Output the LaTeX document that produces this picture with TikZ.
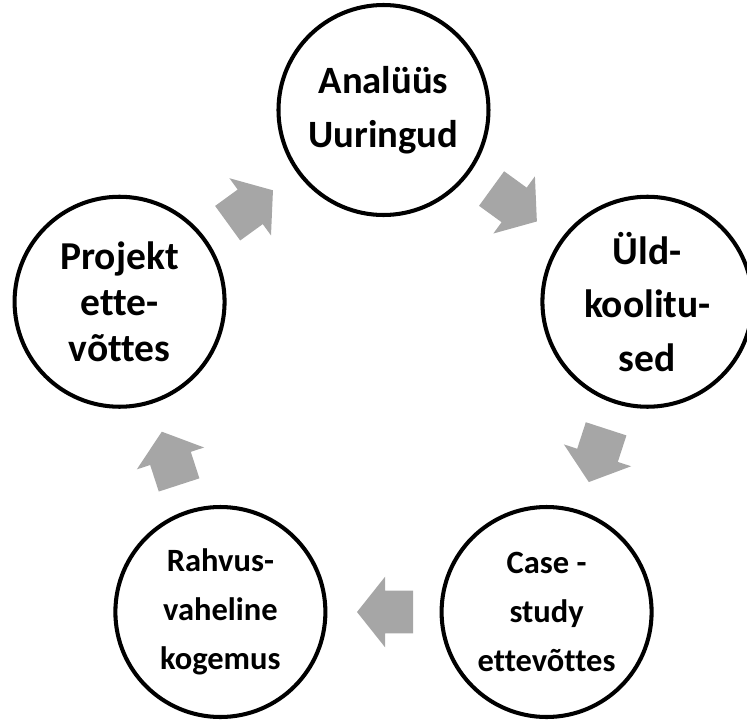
\documentclass[tikz,border=0pt]{standalone}
\usepackage{fontspec}
\setmainfont{Carlito}[Ligatures=NoCommon]
\usepackage{tikz}
\usetikzlibrary{shapes.arrows, calc}
\definecolor{ringgray}{RGB}{166,166,166}
\tikzset{
  etapp/.style={circle, draw=black, line width=2.3pt, minimum size=4.2cm, inner sep=0pt, align=center, fill=white},
  nool/.style={single arrow, fill=ringgray, draw=none, inner xsep=0pt, inner ysep=0.42cm, minimum height=1.12cm, single arrow head extend=0.28cm, single arrow tip angle=103}
}
\begin{document}
\begin{tikzpicture}
  \useasboundingbox (-7.67,-6.73) rectangle (7.27,7.75);
  \node (an) [etapp, font=\fontsize{22}{31}\selectfont\bfseries] at (90:5.55) {Analüüs\\ Uuringud};
  \node (ul) [etapp, font=\fontsize{22.5}{30.5}\selectfont\bfseries] at (18:5.55) {Üld-\\ koolitu-\\ sed};
  \node (ca) [etapp, font=\fontsize{18.5}{28}\selectfont\bfseries] at (-54:5.55) {Case -\\ study\\ ettevõttes};
  \node (ra) [etapp, font=\fontsize{18.5}{28}\selectfont\bfseries] at (234:5.55) {Rahvus-\\ vaheline\\ kogemus};
  \node (pr) [etapp, font=\fontsize{22.5}{26}\selectfont\bfseries] at (162:5.55) {Projekt\\ ette-\\ võttes};
  \foreach \a/\b in {an/ul, ul/ca, ca/ra, ra/pr, pr/an}
    \path let \p1=($(\b)-(\a)$), \n1={atan2(\y1,\x1)} in
      node (n-\a) [nool, rotate=\n1] at ($($(\a)!0.5!(\b)$)!0.2cm!(\a)$) {};
\end{tikzpicture}
\end{document}
